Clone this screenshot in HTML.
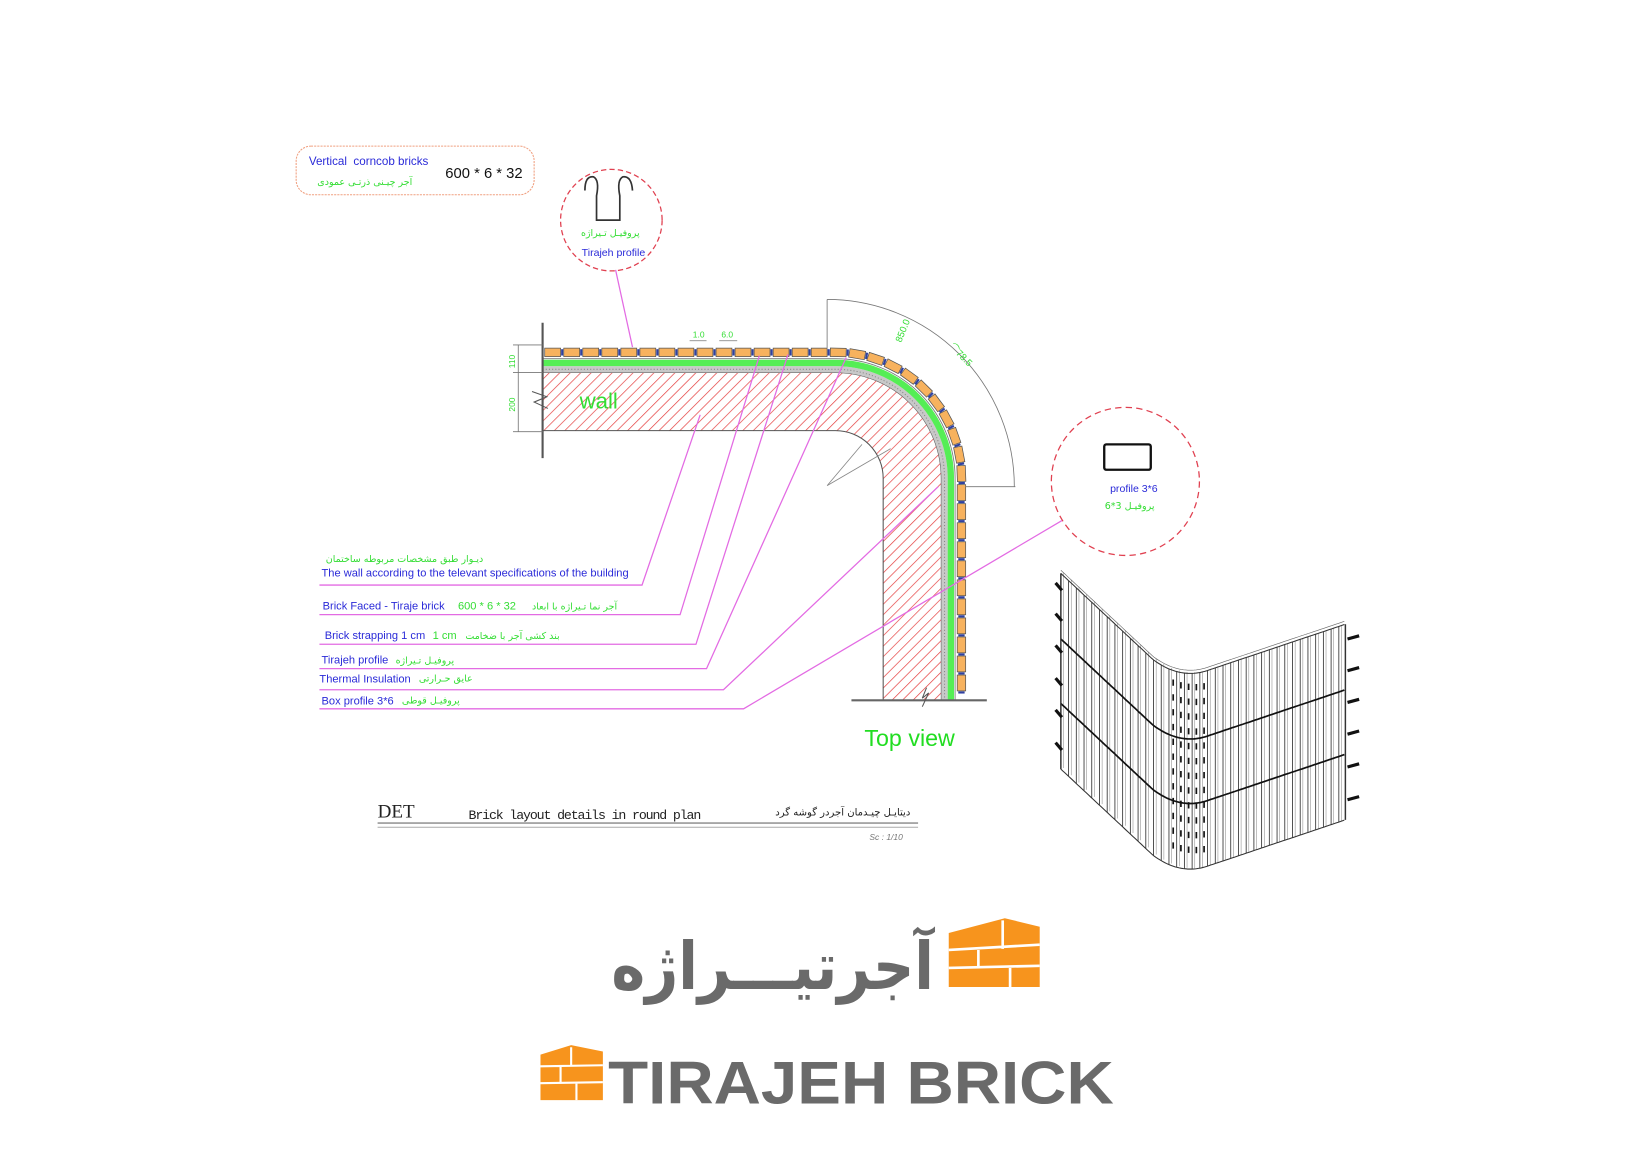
<!DOCTYPE html>
<html><head><meta charset="utf-8"><style>
html,body{margin:0;padding:0;background:#fff;}
svg{display:block;}
</style></head><body>
<svg id="s" width="1650" height="1168" viewBox="0 0 1560 1104" xmlns="http://www.w3.org/2000/svg" font-family="Liberation Sans, DejaVu Sans, sans-serif">
<defs>
<pattern id="hatch" patternUnits="userSpaceOnUse" width="7" height="7" patternTransform="rotate(45)">
<rect width="7" height="7" fill="#fff"/>
<line x1="0" y1="0" x2="0" y2="7" stroke="#e53c3c" stroke-width="1.3"/>
</pattern>
</defs>
<rect width="1560" height="1104" fill="#fff"/>

<!-- top-left label box -->
<rect x="280" y="138" width="225" height="46" rx="14" fill="none" stroke="#f0a080" stroke-width="1" stroke-dasharray="2,1"/>
<text x="292" y="156" font-size="11" fill="#2a2ad8" xml:space="preserve">Vertical  corncob bricks</text>
<text x="300" y="175" font-size="9" fill="#33dd33" font-family="DejaVu Sans, sans-serif">آجر چیـنی ذرتـی عمودی</text>
<text x="421" y="168" font-size="14" fill="#111">600 * 6 * 32</text>

<!-- circle 1 -->
<circle cx="578" cy="208" r="48" fill="none" stroke="#e04050" stroke-width="1.2" stroke-dasharray="5,3"/>
<path d="M553,180 Q553,166 561,167 Q567,170 564,185 L564,208 L586,208 L586,185 Q583,170 589,167 Q597,166 598,180" fill="none" stroke="#333" stroke-width="1.6"/>
<text x="577" y="223" font-size="9" fill="#33dd33" text-anchor="middle" font-family="DejaVu Sans, sans-serif">پروفیـل تـیراژه</text>
<text x="580" y="242" font-size="10" fill="#2a2ad8" text-anchor="middle">Tirajeh profile</text>

<!-- circle 2 -->
<circle cx="1064" cy="455" r="70" fill="none" stroke="#e04050" stroke-width="1.2" stroke-dasharray="6,4"/>
<rect x="1044" y="420" width="44" height="24" rx="2" fill="none" stroke="#111" stroke-width="2.2"/>
<text x="1072" y="465" font-size="10" fill="#2a2ad8" text-anchor="middle">profile 3*6</text>
<text x="1068" y="481" font-size="9" fill="#33dd33" text-anchor="middle" font-family="DejaVu Sans, sans-serif">پروفیـل 3*6</text>

<!-- wall hatch -->
<path d="M513,352 L790,352 A100,100 0 0 1 890,452 L890,662 L835,662 L835,452 A45,45 0 0 0 790,407 L513,407 Z" fill="url(#hatch)" stroke="#555" stroke-width="1"/>
<path d="M513,349 L790,349 A103,103 0 0 1 893,452 L893,662" fill="none" stroke="#c8c8c8" stroke-width="6"/>
<path d="M513,349 L790,349 A103,103 0 0 1 893,452 L893,662" fill="none" stroke="#888" stroke-width="1" stroke-dasharray="1,2"/>
<path d="M513,343 L790,343 A109,109 0 0 1 899,452 L899,662" fill="none" stroke="#55ee55" stroke-width="6"/>
<path d="M513,339 L790,339 A113,113 0 0 1 903,452 L903,662" fill="none" stroke="#777" stroke-width="0.8"/>
<g id="bricks"></g>
<text x="548" y="386" font-size="21" fill="#33dd33">wall</text>

<!-- left dims -->
<line x1="513" y1="305" x2="513" y2="433" stroke="#555" stroke-width="2"/>
<path d="M503,370 L517,375 L505,380 L518,386" fill="none" stroke="#555" stroke-width="1"/>
<line x1="490" y1="326" x2="490" y2="408" stroke="#777" stroke-width="0.8"/>
<line x1="485" y1="326" x2="513" y2="326" stroke="#777" stroke-width="0.8"/>
<line x1="485" y1="352" x2="513" y2="352" stroke="#777" stroke-width="0.8"/>
<line x1="485" y1="408" x2="513" y2="408" stroke="#777" stroke-width="0.8"/>
<text transform="translate(487,348) rotate(-90)" font-size="8" fill="#33dd33">110</text>
<text transform="translate(487,389) rotate(-90)" font-size="8" fill="#33dd33">200</text>
<text x="655" y="319" font-size="8" fill="#33dd33">1.0</text>
<text x="682" y="319" font-size="8" fill="#33dd33">6.0</text>
<line x1="652" y1="322" x2="668" y2="322" stroke="#777" stroke-width="0.7"/>
<line x1="680" y1="322" x2="697" y2="322" stroke="#777" stroke-width="0.7"/>

<!-- arc dim -->
<line x1="782" y1="283" x2="782" y2="330" stroke="#777" stroke-width="0.8"/>
<line x1="913" y1="460" x2="960" y2="460" stroke="#777" stroke-width="0.8"/>
<path d="M782,283 A177,177 0 0 1 959,460" fill="none" stroke="#777" stroke-width="0.8"/>
<text transform="translate(852,324) rotate(-68)" font-size="9" fill="#33dd33">850.0</text>
<text transform="translate(897,328) rotate(45)" font-size="9" fill="#33dd33">⌒78.5</text>
<path d="M815,420 L782,459 L842,424" fill="none" stroke="#888" stroke-width="0.8"/>
<line x1="805" y1="662" x2="933" y2="662" stroke="#666" stroke-width="2"/>
<path d="M872,668 L878,655 L872,660 L876,650" fill="none" stroke="#555" stroke-width="1"/>

<!-- leaders -->
<g fill="none" stroke="#e36be3" stroke-width="1.2">
<path d="M582,255 L598,328"/>
<path d="M302,553 L607,553 L662,392"/>
<path d="M302,581 L643,581 L718,336"/>
<path d="M302,609 L658,609 L745,335"/>
<path d="M302,632 L668,632 L800,338"/>
<path d="M302,652 L684,652 L887,460"/>
<path d="M302,670 L703,670 L1004,492"/>
</g>
<g font-size="10.5" fill="#2a2ad8">
<text x="308" y="531" font-size="9" fill="#33dd33" font-family="DejaVu Sans, sans-serif">دیـوار طبق مشخصات مربوطه ساختمان</text>
<text x="304" y="545">The wall according to the televant specifications of the building</text>
<text x="305" y="576">Brick Faced - Tiraje brick</text>
<text x="433" y="576" fill="#33dd33">600 * 6 * 32</text>
<text x="503" y="576" font-size="9" fill="#33dd33" font-family="DejaVu Sans, sans-serif">آجر نما تـیراژه با ابعاد</text>
<text x="307" y="604">Brick strapping 1 cm</text>
<text x="409" y="604" fill="#33dd33">1 cm</text>
<text x="440" y="604" font-size="9" fill="#33dd33" font-family="DejaVu Sans, sans-serif">بند کشی آجر با ضخامت</text>
<text x="304" y="627">Tirajeh profile</text>
<text x="374" y="627" font-size="9" fill="#33dd33" font-family="DejaVu Sans, sans-serif">پروفیـل تـیراژه</text>
<text x="302" y="645">Thermal Insulation</text>
<text x="396" y="644" font-size="9" fill="#33dd33" font-family="DejaVu Sans, sans-serif">عایق حـرارتی</text>
<text x="304" y="666">Box profile 3*6</text>
<text x="380" y="665" font-size="9" fill="#33dd33" font-family="DejaVu Sans, sans-serif">پروفیـل قوطی</text>
</g>
<text x="860" y="705" font-size="22" fill="#22dd22" text-anchor="middle">Top view</text>

<!-- title -->
<text x="357" y="773" font-size="18" fill="#222" font-family="Liberation Serif, serif" textLength="35" lengthAdjust="spacingAndGlyphs">DET</text>
<text x="443" y="774" font-size="12.5" fill="#222" font-family="Liberation Mono, monospace" textLength="220">Brick layout details in round plan</text>
<text x="733" y="771" font-size="9.5" fill="#222" font-family="DejaVu Sans, sans-serif">دیتایـل چیـدمان آجردر گوشه گرد</text>
<line x1="357" y1="778" x2="868" y2="778" stroke="#999" stroke-width="1.6"/>
<line x1="357" y1="782" x2="868" y2="782" stroke="#aaa" stroke-width="1"/>
<text x="822" y="794" font-size="8" fill="#777" font-style="italic">Sc : 1/10</text>

<!-- 3D -->
<g id="iso"></g>

<!-- logo -->
<text x="578" y="935" font-size="62" font-weight="bold" fill="#6a6a6a" font-family="DejaVu Sans, sans-serif" textLength="305" lengthAdjust="spacingAndGlyphs">آجرتیـــراژه</text>
<g>
<path d="M897,882 L950,868 L983,876 L983,933 L897,933 Z" fill="#f7941d"/>
<path d="M897,898 L983,893 M897,915 L983,913 M948,870 L948,897 M925,898 L925,915 M955,915 L955,933" stroke="#fff" stroke-width="2.5" fill="none"/>
</g>
<g>
<path d="M511,997 L540,988 L570,994 L570,1040 L511,1040 Z" fill="#f7941d"/>
<path d="M511,1008 L570,1007 M511,1024 L570,1023 M540,990 L540,1008 M530,1008 L530,1024 M545,1024 L545,1040" stroke="#fff" stroke-width="2" fill="none"/>
</g>
<text x="575" y="1043" font-size="57" font-weight="bold" fill="#6a6a6a" font-family="Liberation Sans, sans-serif" textLength="478" lengthAdjust="spacingAndGlyphs">TIRAJEH BRICK</text>
</svg>
<script>
(function(){
var NS="http://www.w3.org/2000/svg";
function el(t,a,p){var e=document.createElementNS(NS,t);for(var k in a)e.setAttribute(k,a[k]);p.appendChild(e);return e;}
var g=document.getElementById('bricks');
var cx=790,cy=452,r=119,L1=277,L2=Math.PI/2*r,L3=210,tot=L1+L2+L3;
function pt(s){
 if(s<L1)return [513+s,cy-r,0];
 if(s<L1+L2){var a=(s-L1)/r;return [cx+r*Math.sin(a),cy-r*Math.cos(a),a*180/Math.PI];}
 return [cx+r,cy+(s-L1-L2),90];
}
for(var s=2;s+15<tot;s+=18){
 var p=pt(s+7.5);
 var grp=el('g',{transform:'translate('+p[0]+','+p[1]+') rotate('+p[2]+')'},g);
 el('rect',{x:-7.5,y:-4,width:15,height:8,fill:'#f7b25e',stroke:'#555','stroke-width':0.7},grp);
 el('rect',{x:8,y:-3,width:2,height:6,fill:'#3040a0'},grp);
}
var iso=document.getElementById('iso');
function T(x){
 if(x<=1090)return 542+(x-1003)*(86/92);
 if(x<=1140){var t=(x-1090)/50;var a=542+87*(86/92);return (1-t)*(1-t)*a+2*(1-t)*t*642+t*t*634.3;}
 return 636-(x-1135)*(46/137);
}
var H=185,x0=1003,x1=1272;
function curve(off){var d='';for(var x=x0;x<=x1;x+=2){d+=(x==x0?'M':'L')+x+','+(T(x)+off).toFixed(1);}return d;}
for(var x=x0;x<=x1;x+=7.3){
 var y=T(x);
 el('line',{x1:x,y1:y,x2:x,y2:y+H,stroke:'#333','stroke-width':0.8},iso);
 el('line',{x1:x+2.5,y1:y-1,x2:x+2.5,y2:y+H-1,stroke:'#888','stroke-width':0.5},iso);
 if(x>1098&&x<1140){el('line',{x1:x+4,y1:y+10,x2:x+4,y2:y+H-10,stroke:'#111','stroke-width':1.6,'stroke-dasharray':'6,8'},iso);}
}
el('path',{d:curve(0),fill:'none',stroke:'#333','stroke-width':1},iso);
el('path',{d:curve(-3),fill:'none',stroke:'#666','stroke-width':0.6},iso);
el('path',{d:curve(H),fill:'none',stroke:'#333','stroke-width':1},iso);
el('path',{d:curve(62),fill:'none',stroke:'#111','stroke-width':1.6},iso);
el('path',{d:curve(123),fill:'none',stroke:'#111','stroke-width':1.6},iso);
el('line',{x1:x0,y1:T(x0),x2:x0,y2:T(x0)+H,stroke:'#333','stroke-width':1.4},iso);
el('line',{x1:x1,y1:T(x1),x2:x1,y2:T(x1)+H,stroke:'#333','stroke-width':1.4},iso);
[551,580,610,641,671,702].forEach(function(y){el('line',{x1:998,y1:y,x2:1004,y2:y+7,stroke:'#111','stroke-width':3},iso);});
[602,632,662,692,723,754].forEach(function(y){el('line',{x1:1274,y1:y+2,x2:1285,y2:y-1,stroke:'#111','stroke-width':3},iso);});
})();
</script>
</body></html>
